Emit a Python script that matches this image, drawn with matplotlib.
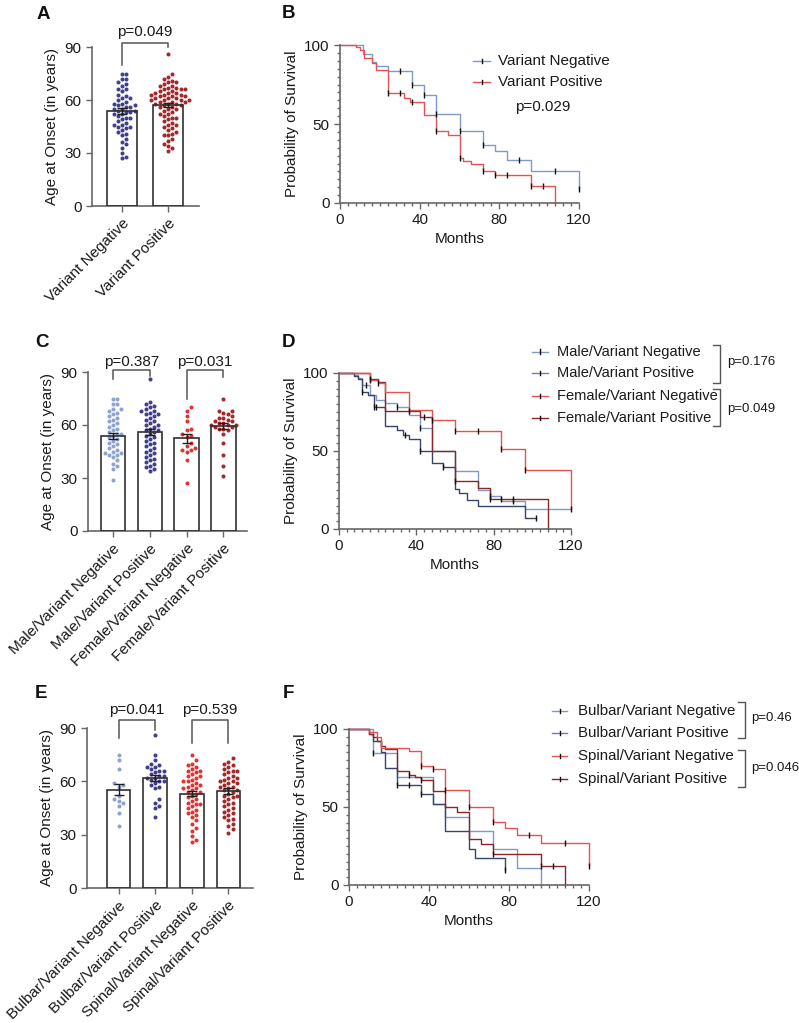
import numpy as np
import matplotlib
matplotlib.use('Agg')
import matplotlib.pyplot as plt
from matplotlib.lines import Line2D
from matplotlib.ticker import MultipleLocator

plt.rcParams['font.family'] = ['Liberation Sans', 'DejaVu Sans']
plt.rcParams['font.size'] = 11

# ---------------- DATA ----------------
# Panel A
a_labels = ["Variant Negative", "Variant Positive"]
a_neg = [75, 75, 72, 72, 70, 69, 68, 66, 66, 65, 63, 62, 61, 61, 60, 59, 58, 58, 57, 57,
         56, 56, 55, 55, 54, 54, 53, 53, 52, 52, 51, 50, 50, 49, 48, 47, 46, 46, 45, 45,
         44, 43, 42, 41, 40, 38, 36, 35, 33, 30, 28, 27]
a_pos = [86, 75, 73, 72, 71, 70, 70, 69, 68, 68, 67, 67, 66, 66, 66, 65, 65, 64, 64, 64,
         63, 63, 63, 62, 62, 62, 61, 61, 61, 60, 60, 60, 60, 59, 59, 59, 58, 58, 58, 57,
         57, 56, 56, 55, 55, 54, 53, 52, 52, 51, 50, 50, 49, 48, 47, 46, 46, 45, 44, 43,
         42, 41, 40, 40, 38, 37, 35, 34, 33, 31]
a_means = [53.7, 57.0]
a_sems = [1.5, 1.2]
a_p = "p=0.049"

# Panel C
c_labels = ["Male/Variant Negative", "Male/Variant Positive",
            "Female/Variant Negative", "Female/Variant Positive"]
c_mneg = [75, 75, 72, 72, 69, 69, 68, 67, 66, 65, 64, 63, 62, 61, 60, 59, 58, 57, 56, 55,
          55, 54, 53, 52, 51, 50, 49, 48, 47, 46, 45, 44, 44, 43, 43, 42, 40, 38, 37, 35, 29]
c_mpos = [86, 73, 72, 71, 70, 69, 68, 68, 67, 66, 66, 65, 64, 63, 62, 61, 60, 60, 59, 58,
          57, 57, 56, 55, 54, 53, 52, 51, 50, 49, 48, 47, 46, 45, 44, 43, 42, 41, 40, 39,
          38, 37, 36, 35, 34]
c_fneg = [70, 68, 65, 62, 58, 57, 55, 54, 53, 50, 48, 47, 46, 46, 45, 40, 27]
c_fpos = [75, 68, 68, 67, 66, 65, 64, 64, 63, 62, 62, 61, 61, 60, 60, 60, 59, 59, 58, 58,
          57, 55, 50, 43, 37, 31]
c_means = [53.8, 55.8, 52.5, 59.4]
c_sems = [1.8, 1.7, 2.5, 1.6]
c_p = ["p=0.387", "p=0.031"]

# Panel E
e_labels = ["Bulbar/Variant Negative", "Bulbar/Variant Positive",
            "Spinal/Variant Negative", "Spinal/Variant Positive"]
e_bneg = [75, 72, 67, 59, 58, 57, 52, 50, 49, 48, 46, 42, 35]
e_bpos = [86, 75, 72, 70, 69, 68, 68, 67, 66, 66, 65, 64, 63, 63, 62, 62, 61, 60, 60, 59,
          58, 57, 56, 50, 48, 46, 45, 40]
e_sneg = [75, 72, 70, 69, 68, 67, 66, 66, 65, 64, 63, 63, 62, 61, 60, 60, 59, 58, 58, 57,
          56, 56, 55, 54, 54, 53, 52, 51, 50, 49, 48, 47, 47, 46, 45, 44, 43, 42, 41, 40,
          38, 36, 34, 32, 29, 27, 26]
e_spos = [73, 71, 70, 69, 68, 67, 66, 66, 65, 64, 63, 62, 62, 61, 60, 60, 59, 59, 58, 57,
          57, 56, 55, 55, 54, 53, 52, 52, 51, 50, 49, 48, 47, 46, 45, 44, 43, 42, 41, 40,
          39, 38, 36, 35, 33, 31]
e_means = [55.3, 62.1, 53.1, 54.6]
e_sems = [3.0, 1.7, 1.6, 1.6]
e_p = ["p=0.041", "p=0.539"]

# Panel B (Kaplan-Meier: event times, survival after event, censor times)
b_labels = ["Variant Negative", "Variant Positive"]
b_neg_t = [11.5, 16, 18, 24, 36, 42, 48, 60, 72, 78, 84, 96, 120]
b_neg_s = [94.5, 89, 87, 83.5, 74.5, 68.5, 56.5, 45.8, 36.5, 32.8, 27, 20, 9]
b_neg_c = [30, 36, 42, 48, 60, 72, 90, 108, 120]
b_pos_t = [8, 10, 12, 16, 18, 24, 32, 35, 42, 48, 54, 60, 62, 66, 72, 78, 96, 108]
b_pos_s = [99, 97, 92, 88.5, 84, 69.8, 66.5, 64, 56, 45.5, 42.8, 28.5, 26.5, 24.5, 20.5, 18, 11, 0]
b_pos_c = [24, 30, 36, 48, 60, 72, 78, 84, 96, 102]
b_p = "p=0.029"

# Panel D
d_labels = ["Male/Variant Negative", "Male/Variant Positive",
            "Female/Variant Negative", "Female/Variant Positive"]
d_mneg_t = [8, 10, 12, 16, 19, 24, 30, 36, 42, 48, 60, 72, 78, 84, 96]
d_mneg_s = [99, 97, 92, 86, 83, 80.6, 78, 73, 64.5, 50, 37, 25, 21, 18, 13]
d_mneg_c = [14, 30, 42, 78, 90, 120]
d_mpos_t = [8, 10, 12, 15, 18, 24, 30, 33, 36, 42, 48, 54, 60, 62, 66, 72, 96]
d_mpos_s = [98, 96, 88, 86, 78, 66, 63.6, 60, 58, 50, 42, 39.6, 25.7, 22.8, 18.5, 14.7, 7.2]
d_mpos_c = [12, 18, 19, 34, 42, 54, 102]
d_fneg_t = [16, 20, 24, 36, 48, 60, 84, 96, 120]
d_fneg_s = [95.5, 93.5, 88, 76, 70, 63, 51, 38, 13]
d_fneg_c = [16, 20, 48, 60, 72, 84, 96]
d_fpos_t = [16, 20, 24, 42, 48, 60, 72, 78, 108]
d_fpos_s = [96, 94, 75.7, 72, 50, 31, 26, 19.4, 0]
d_fpos_c = [16, 36, 44, 60, 78, 84, 90]
d_p = ["p=0.176", "p=0.049"]

# Panel F
f_labels = ["Bulbar/Variant Negative", "Bulbar/Variant Positive",
            "Spinal/Variant Negative", "Spinal/Variant Positive"]
f_bneg_t = [12, 24, 42, 48, 60, 72, 84, 96]
f_bneg_s = [84.5, 69, 52, 43.5, 34.7, 23, 11, 0]
f_bneg_c = [12]
f_bpos_t = [10, 12, 16, 18, 24, 36, 42, 48, 60, 63, 78]
f_bpos_s = [97, 92, 85, 75, 63.8, 58.6, 52, 34.7, 23, 17.5, 9.6]
f_bpos_c = [24, 30, 36, 78]
f_sneg_t = [10, 14, 16, 30, 36, 42, 48, 60, 72, 78, 84, 96, 120]
f_sneg_s = [98, 95, 88, 85.6, 76.5, 74.5, 61.2, 49.7, 40.7, 36.4, 32, 27, 12]
f_sneg_c = [36, 42, 48, 60, 72, 90, 108, 120]
f_spos_t = [10, 12, 14, 16, 18, 24, 30, 33, 36, 42, 48, 54, 60, 66, 72, 96, 108]
f_spos_s = [97, 95, 92, 89, 87.5, 72.8, 70.7, 69, 67.5, 60, 49.7, 46.7, 29.3, 26, 19.7, 12, 0]
f_spos_c = [30, 36, 72, 96, 102]
f_p = ["p=0.46", "p=0.046"]

# ---------------- STYLE ----------------
COL_NAVY = '#40408c'
COL_DRED = '#a3282a'
COL_LBLUE = '#8fa3d2'
COL_RED = '#df3434'
KM_BLUE = '#7f9ac4'
KM_RED = '#e25454'
KM_NAVY = '#3a4468'
KM_DRED = '#8c2626'
AXC = '#666666'
TXT = '#1a1a1a'
FS = 11

W, H = 799, 1023
fig = plt.figure(figsize=(W / 100, H / 100), dpi=100)


def fx(px):
    return px / W


def fy(py):
    return 1 - py / H


def axes_px(l, t, r, b):
    return fig.add_axes([fx(l), fy(b), (r - l) / W, (b - t) / H])


def style_axes(ax):
    for s in ('top', 'right'):
        ax.spines[s].set_visible(False)
    for s in ('left', 'bottom'):
        ax.spines[s].set_color(AXC)
        ax.spines[s].set_linewidth(1.2)
    ax.tick_params(which='both', color=AXC, width=1.0, labelcolor=TXT, labelsize=FS)
    ax.tick_params(which='major', length=4)
    ax.tick_params(which='minor', length=2.5)


def swarm(ax, center, values, d_px):
    vals = np.asarray(values, dtype=float)
    pts = ax.transData.transform(np.column_stack([np.full(len(vals), center), vals]))
    cx = pts[0, 0]
    yp = pts[:, 1]
    placed = []
    offs = np.zeros(len(vals))
    cands = [0.0] + [s * j * d_px for j in range(1, 60) for s in (1, -1)]
    for i in np.argsort(yp):
        y = yp[i]
        for off in cands:
            if all((off - px) ** 2 + (y - py) ** 2 >= 0.92 * d_px ** 2 for px, py in placed):
                break
        placed.append((off, y))
        offs[i] = off
    back = ax.transData.inverted().transform(np.column_stack([cx + offs, yp]))
    return back[:, 0]


def bar_panel(ax, labels, groups, means, sems, colors, xlim, bw, brackets):
    ax.set_xlim(*xlim)
    ax.set_ylim(0, 90)
    x = np.arange(len(labels))
    ax.bar(x, means, width=bw, color='white', edgecolor='none', zorder=1)
    for i, (g, c) in enumerate(zip(groups, colors)):
        xs = swarm(ax, x[i], g, 4.2)
        ax.plot(xs, g, 'o', ms=2.9, color=c, mec='none', zorder=2, clip_on=False)
    ax.bar(x, means, width=bw, fill=False, edgecolor='#303030', lw=1.2, zorder=3)
    ax.errorbar(x, means, yerr=sems, fmt='none', ecolor='#202020', elinewidth=1.0,
                capsize=3.5, capthick=1.0, zorder=4)
    style_axes(ax)
    ax.set_yticks([0, 30, 60, 90])
    ax.set_xticks(x)
    ax.set_xticklabels(labels, rotation=45, ha='right', rotation_mode='anchor', fontsize=FS)
    ax.set_ylabel('Age at Onset (in years)', fontsize=FS, color=TXT, labelpad=4)
    for (i1, i2, yl, yr, ytop, ytxt, txt) in brackets:
        ax.plot([x[i1], x[i1], x[i2], x[i2]], [yl, ytop, ytop, yr], color='#555555',
                lw=1.1, clip_on=False, zorder=5)
        ax.text((x[i1] + x[i2]) / 2, ytxt, txt, ha='center', va='center',
                fontsize=FS, color=TXT, clip_on=False)


def km(ax, t, s, c, color):
    t = np.asarray(t, float)
    s = np.asarray(s, float)
    c = np.asarray(c, float)
    end = max(t.max(), c.max() if len(c) else 0)
    xs = np.concatenate([[0], t, [end]])
    ys = np.concatenate([[100], s, [s[-1]]])
    ax.plot(xs, ys, drawstyle='steps-post', color=color, lw=1.0, clip_on=False, zorder=2)
    lev = np.concatenate([[100], s])[np.searchsorted(t, c, side='right')]
    ax.plot(c, lev, ls='none', marker='|', ms=4, mew=1.0, color='#111111',
            clip_on=False, zorder=3)


def km_axes(ax):
    ax.set_xlim(0, 120)
    ax.set_ylim(0, 100)
    style_axes(ax)
    ax.set_xticks([0, 40, 80, 120])
    ax.set_yticks([0, 50, 100])
    ax.xaxis.set_minor_locator(MultipleLocator(4))
    ax.yaxis.set_minor_locator(MultipleLocator(5))
    ax.set_xlabel('Months', fontsize=FS, color=TXT, labelpad=3)
    ax.set_ylabel('Probability of Survival', fontsize=FS, color=TXT, labelpad=4)


def legend_entry(xl0, xl1, xt, y, color, label, fs=FS):
    fig.add_artist(Line2D([fx(xl0), fx(xl1)], [fy(y), fy(y)], color=color, lw=1.0,
                          transform=fig.transFigure))
    xm = (xl0 + xl1) / 2
    fig.add_artist(Line2D([fx(xm), fx(xm)], [fy(y - 2.5), fy(y + 1.5)], color='#111111',
                          lw=1.0, transform=fig.transFigure))
    fig.text(fx(xt), fy(y), label, ha='left', va='center', fontsize=fs, color=TXT)


def legend_bracket(x, y0, y1, tx, ty, txt):
    fig.add_artist(Line2D([fx(x - 7), fx(x), fx(x), fx(x - 7)],
                          [fy(y0), fy(y0), fy(y1), fy(y1)], color='#555555', lw=1.0,
                          transform=fig.transFigure))
    fig.text(fx(tx), fy(ty), txt, ha='left', va='center', fontsize=9.5, color=TXT)


# ---------------- PANEL A ----------------
axA = axes_px(92, 47, 199, 206)
bar_panel(axA, a_labels, [a_neg, a_pos], a_means, a_sems, [COL_NAVY, COL_DRED],
          (-0.652, 1.674), 0.65, [(0, 1, 79.7, 90, 92.3, 98.5, a_p)])

# ---------------- PANEL B ----------------
axB = axes_px(340, 45, 579, 203)
km_axes(axB)
km(axB, b_neg_t, b_neg_s, b_neg_c, KM_BLUE)
km(axB, b_pos_t, b_pos_s, b_pos_c, KM_RED)
legend_entry(473, 490, 498, 61, KM_BLUE, b_labels[0])
legend_entry(473, 490, 498, 82, KM_RED, b_labels[1])
fig.text(fx(543), fy(107), b_p, ha='center', va='center', fontsize=FS, color=TXT)

# ---------------- PANEL C ----------------
axC = axes_px(88, 372, 247, 531)
bar_panel(axC, c_labels, [c_mneg, c_mpos, c_fneg, c_fpos], c_means, c_sems,
          [COL_LBLUE, COL_NAVY, COL_RED, COL_DRED], (-0.68, 3.64), 0.66,
          [(0, 1, 85.8, 87.7, 91, 95.7, c_p[0]), (2, 3, 75, 87, 91, 95.7, c_p[1])])

# ---------------- PANEL D ----------------
axD = axes_px(339, 373, 571, 529)
km_axes(axD)
km(axD, d_mneg_t, d_mneg_s, d_mneg_c, KM_BLUE)
km(axD, d_mpos_t, d_mpos_s, d_mpos_c, KM_NAVY)
km(axD, d_fpos_t, d_fpos_s, d_fpos_c, KM_DRED)
km(axD, d_fneg_t, d_fneg_s, d_fneg_c, KM_RED)
d_cols = [KM_BLUE, '#6f7fa6', KM_RED, KM_DRED]
for i, yy in enumerate([352, 373, 396, 418]):
    legend_entry(532, 548, 557, yy, d_cols[i], d_labels[i], fs=10.5)
legend_bracket(720, 345, 383, 727, 362, d_p[0])
legend_bracket(720, 389, 426, 727, 409, d_p[1])

# ---------------- PANEL E ----------------
axE = axes_px(87, 728, 253, 888)
bar_panel(axE, e_labels, [e_bneg, e_bpos, e_sneg, e_spos], e_means, e_sems,
          [COL_LBLUE, COL_NAVY, COL_RED, COL_DRED], (-0.86, 3.67), 0.64,
          [(0, 1, 84.4, 89, 94.7, 100, e_p[0]), (2, 3, 81.6, 81.6, 94.7, 100, e_p[1])])

# ---------------- PANEL F ----------------
axF = axes_px(349, 729, 589, 885)
km_axes(axF)
km(axF, f_bneg_t, f_bneg_s, f_bneg_c, KM_BLUE)
km(axF, f_bpos_t, f_bpos_s, f_bpos_c, KM_NAVY)
km(axF, f_spos_t, f_spos_s, f_spos_c, KM_DRED)
km(axF, f_sneg_t, f_sneg_s, f_sneg_c, KM_RED)
f_cols = [KM_BLUE, '#6f7fa6', KM_RED, KM_DRED]
for i, yy in enumerate([711, 733, 756, 779]):
    legend_entry(552, 567, 578, yy, f_cols[i], f_labels[i], fs=10.8)
legend_bracket(745, 702, 738, 751, 718, f_p[0])
legend_bracket(745, 750, 787, 751, 768, f_p[1])

# ---------------- PANEL LETTERS ----------------
for letter, (px, py) in {'A': (37, 6), 'B': (282, 5), 'C': (35, 334), 'D': (282, 334),
                         'E': (35, 685), 'F': (283, 685)}.items():
    fig.text(fx(px), fy(py), letter, ha='left', va='top', fontsize=13.5, fontweight='bold',
             color='#111111')

fig.savefig('out.png', dpi=100)
